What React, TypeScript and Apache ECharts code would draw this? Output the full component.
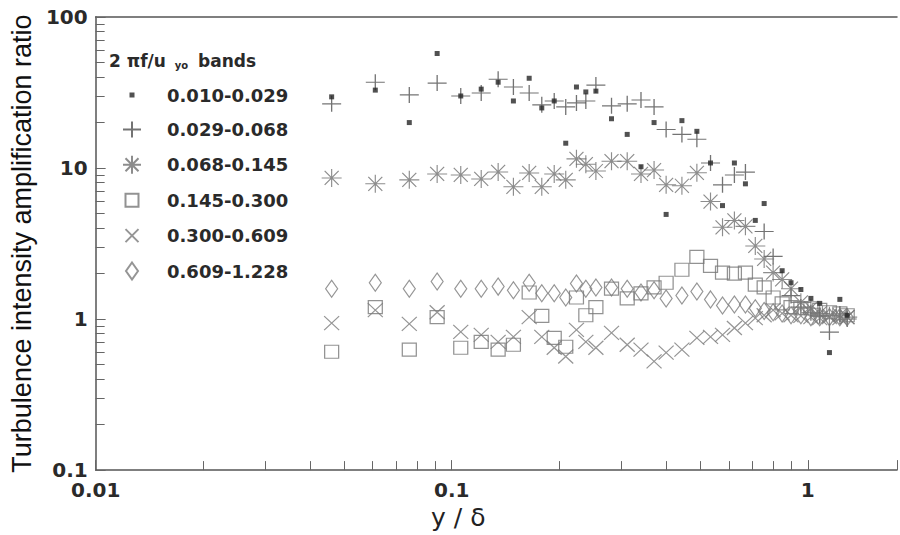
import React, { useEffect, useRef } from 'react';
import * as echarts from 'echarts';

// y/δ positions of the measurement stations
const yDelta = [0.046, 0.061, 0.076, 0.091, 0.106, 0.121, 0.135, 0.149, 0.165, 0.179, 0.194, 0.209, 0.224, 0.238, 0.254, 0.281, 0.311, 0.34, 0.37, 0.4, 0.443, 0.488, 0.533, 0.576, 0.622, 0.668, 0.712, 0.754, 0.799, 0.847, 0.897, 0.956, 1.02, 1.08, 1.15, 1.23, 1.29];

const bandNames = ['0.010-0.029', '0.029-0.068', '0.068-0.145', '0.145-0.300', '0.300-0.609', '0.609-1.228'];

const band1 = [29.6, 32.8, 20.0, 57.3, 30.0, 33.3, 37.0, 27.8, 39.3, 25.0, 27.8, 14.6, 34.4, 31.9, 32.3, 21.2, 16.7, 10.2, 20.0, 4.93, 20.6, 17.5, 10.8, 5.64, 10.8, 7.86, 4.5, 5.82, null, 2.09, 1.74, 1.57, 1.37, 1.27, 0.6, 1.35, 1.06];
const band2 = [26.6, 37.0, 30.5, 36.5, 30.0, 31.4, 38.7, 34.4, 31.4, 26.2, 27.8, 25.4, 27.0, 27.8, 35.4, 25.8, 26.6, 28.2, 25.4, 18.0, 16.7, 15.5, 10.8, 7.74, 9.0, 9.4, null, 3.8, 2.6, null, 1.43, 1.2, 1.1, 1.05, 0.82, 1.08, 1.0];
const band3 = [8.6, 7.86, 8.35, 9.14, 9.0, 8.47, 9.42, 7.51, 9.28, 7.51, 9.14, 8.35, 11.5, 10.6, 9.56, 11.1, 11.1, 9.14, 9.7, 7.74, 7.63, 9.3, 6.0, 4.05, 4.5, 4.11, 3.05, 2.5, 2.03, 1.83, 1.59, 1.29, 1.18, 1.09, 1.05, 1.06, 1.03];
const band4 = [0.608, 1.2, 0.627, 1.03, 0.646, 0.707, 0.627, 0.676, 1.5, 1.05, 0.751, 0.656, 1.39, 1.06, 1.2, 1.59, 1.37, 1.48, 1.62, 1.74, 2.12, 2.58, 2.25, 2.03, 2.0, 2.03, 1.69, 1.62, 1.39, 1.27, 1.2, 1.18, 1.18, 1.15, 1.11, 1.09, 1.06];
const band5 = [0.94, 1.145, 0.93, 1.11, 0.822, 0.786, 0.707, 0.763, 1.03, 0.763, 0.646, 0.565, 0.848, 0.707, 0.646, 0.81, 0.676, 0.627, 0.524, 0.6, 0.627, 0.751, 0.763, 0.786, 0.873, 0.94, 1.015, 1.06, 1.145, 1.09, 1.06, 1.05, 1.03, 1.015, 1.03, 1.015, 1.03];
const band6 = [1.59, 1.74, 1.59, 1.77, 1.59, 1.59, 1.64, 1.55, 1.74, 1.48, 1.48, 1.39, 1.72, 1.59, 1.62, 1.62, 1.59, 1.5, 1.55, 1.37, 1.43, 1.52, 1.35, 1.23, 1.25, 1.25, 1.18, 1.13, 1.11, 1.09, 1.06, 1.06, 1.03, 1.03, 1.03, 1.03, 1.03];

const xTickLabels = ['0.01', '0.1', '1'];
const yTickLabels = ['0.1', '1', '10', '100'];

const SYM_PLUS = 'path://M0,8H19M9.5,0V16';
const SYM_AST = 'path://M0,9H20M10,0V18M3,2L17,16M3,16L17,2';
const SYM_SQUARE = 'path://M0,0H14V13H0Z';
const SYM_X = 'path://M0,0L15,14M0,14L15,0';
const SYM_DIAMOND = 'path://M6,0L12,8.5L6,17L0,8.5Z';

const LEG_DOT = 'path://M0,0M22,20M8.5,7.5H13.5V12.5H8.5Z';
const LEG_PLUS = 'path://M0,0M22,20M2,10H20M11,2V18';
const LEG_AST = 'path://M0,0M22,20M2,10H20M11,1V19M4.5,3.5L17.5,16.5M4.5,16.5L17.5,3.5';
const LEG_SQUARE = 'path://M0,0M22,20M4.5,3.5H17.5V16.5H4.5Z';
const LEG_X = 'path://M0,0M22,20M4.5,3.5L17.5,16.5M4.5,16.5L17.5,3.5';
const LEG_DIAMOND = 'path://M0,0M22,20M11,1.5L17,10L11,18.5L5,10Z';

function pairs(ys: (number | null)[]) {
  const out: number[][] = [];
  ys.forEach((y, i) => {
    if (y != null) out.push([yDelta[i], y]);
  });
  return out;
}

function fmt(list: string[]) {
  return (v: number) => {
    const s = String(Number(Number(v).toPrecision(6)));
    return list.includes(s) ? s : '';
  };
}

const TICK_FONT = { fontFamily: 'DejaVu Sans', fontSize: 20, fontWeight: 'bold' as const, color: '#2a2a2a' };

export default function App() {
  const ref = useRef<HTMLDivElement>(null);
  useEffect(() => {
    if (!ref.current) return;
    const chart = echarts.init(ref.current, undefined, { renderer: 'svg' });
    const outline = (c: string, w = 1.2) => ({ color: 'transparent', borderColor: c, borderWidth: w });
    const option: any = {
      animation: false,
      backgroundColor: '#ffffff',
      grid: { left: 92, right: 0, top: 17, bottom: 58, containLabel: false },
      legend: {
        orient: 'vertical',
        left: 120,
        top: 85,
        padding: 0,
        itemWidth: 22,
        itemHeight: 20,
        itemGap: 13.4,
        selectedMode: false,
        textStyle: { fontFamily: 'DejaVu Sans', fontSize: 18, fontWeight: 'bold', color: '#2a2a2a', padding: [0, 0, 0, 19], lineHeight: 20 },
        data: [
          { name: bandNames[0], icon: LEG_DOT },
          { name: bandNames[1], icon: LEG_PLUS },
          { name: bandNames[2], icon: LEG_AST },
          { name: bandNames[3], icon: LEG_SQUARE },
          { name: bandNames[4], icon: LEG_X },
          { name: bandNames[5], icon: LEG_DIAMOND },
        ],
      },
      graphic: [
        {
          type: 'text',
          left: 109,
          top: 52,
          style: {
            text: '{a|2 π}{a|f/u }{s|yo}{a| bands}',
            rich: {
              a: { fontFamily: 'DejaVu Sans', fontSize: 17, fontWeight: 'bold', fill: '#2a2a2a' },
              s: { fontFamily: 'DejaVu Sans', fontSize: 10, fontWeight: 'bold', fill: '#2a2a2a', padding: [9, 4, 0, 3] },
            },
          },
        },
      ],
      xAxis: [
        {
          type: 'log',
          logBase: 10,
          min: 0.01,
          max: 1.78,
          name: 'y / δ',
          nameLocation: 'middle',
          nameGap: 32,
          nameTextStyle: { fontFamily: 'DejaVu Sans', fontSize: 25, color: '#222', padding: [0, 76, 0, 0] },
          axisLine: { show: true, lineStyle: { color: '#555', width: 1.5 } },
          axisTick: { show: true, inside: true, length: 10, lineStyle: { color: '#666', width: 1 } },
          minorTick: { show: true, splitNumber: 9, length: 9, lineStyle: { color: '#666', width: 1 } },
          axisLabel: { formatter: fmt(xTickLabels), margin: 10, ...TICK_FONT },
          splitLine: { show: false },
          minorSplitLine: { show: false },
        },
        {
          type: 'log',
          logBase: 10,
          min: 0.01,
          max: 1.78,
          position: 'top',
          axisLine: { show: true, lineStyle: { color: '#555', width: 1.5 } },
          axisTick: { show: false },
          axisLabel: { show: false },
          splitLine: { show: false },
        },
      ],
      yAxis: {
        type: 'log',
        logBase: 10,
        min: 0.1,
        max: 100,
        name: 'Turbulence intensity amplification ratio',
        nameLocation: 'middle',
        nameGap: 58,
        nameTextStyle: { fontFamily: 'Liberation Sans', fontSize: 27, color: '#111' },
        axisLine: { show: true, lineStyle: { color: '#555', width: 1.5 } },
        axisTick: { show: true, inside: true, length: 10, lineStyle: { color: '#666', width: 1 } },
        minorTick: { show: true, splitNumber: 9, length: 9, lineStyle: { color: '#666', width: 1 } },
        axisLabel: { formatter: fmt(yTickLabels), margin: 8, ...TICK_FONT },
        splitLine: { show: false },
        minorSplitLine: { show: false },
      },
      series: [
        { type: 'scatter', name: bandNames[1], data: pairs(band2), symbol: SYM_PLUS, symbolSize: [19, 16], itemStyle: outline('#505050') },
        { type: 'scatter', name: bandNames[2], data: pairs(band3), symbol: SYM_AST, symbolSize: [20, 18], itemStyle: outline('#707070', 1.1) },
        { type: 'scatter', name: bandNames[3], data: pairs(band4), symbol: SYM_SQUARE, symbolSize: [14, 13], itemStyle: outline('#777777') },
        { type: 'scatter', name: bandNames[4], data: pairs(band5), symbol: SYM_X, symbolSize: [15, 14], itemStyle: outline('#7a7a7a') },
        { type: 'scatter', name: bandNames[5], data: pairs(band6), symbol: SYM_DIAMOND, symbolSize: [12, 17], itemStyle: outline('#7a7a7a') },
        { type: 'scatter', name: bandNames[0], data: pairs(band1), symbol: 'rect', symbolSize: 5, itemStyle: { color: '#262626' }, z: 5 },
      ],
    };
    chart.setOption(option);
    return () => chart.dispose();
  }, []);
  return <div ref={ref} style={{ position: 'fixed', left: 0, top: 0, width: 900, height: 535, background: '#fff' }} />;
}
